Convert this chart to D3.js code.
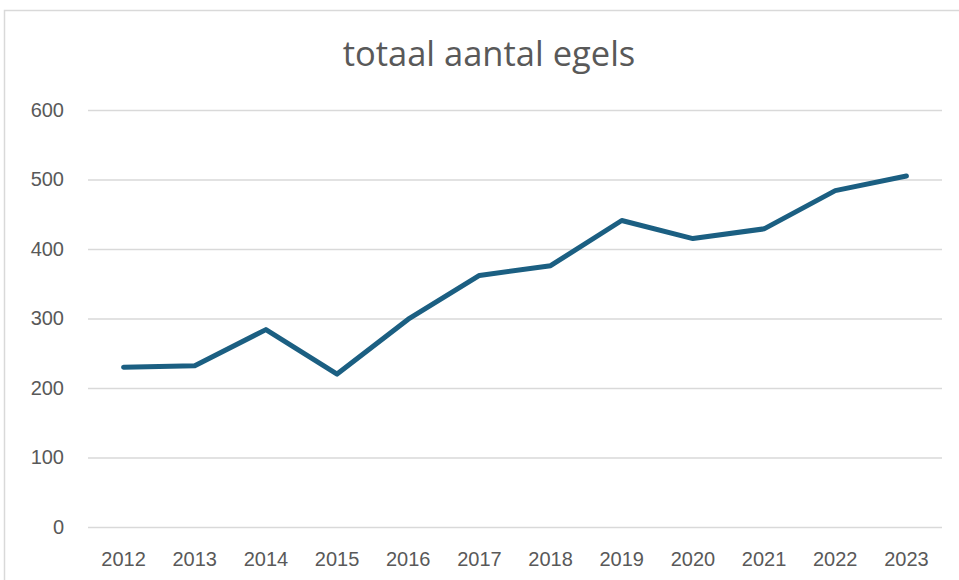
<!DOCTYPE html>
<html>
<head>
<meta charset="utf-8">
<script src="https://cdn.jsdelivr.net/npm/d3@7"></script>
<style>
  body { margin: 0; background: #fff; }
  text { fill: #595959; }
</style>
</head>
<body>
<div id="chart"></div>
<script>
// data
var years = ["2012", "2013", "2014", "2015", "2016", "2017", "2018", "2019", "2020", "2021", "2022", "2023"];
var egels = [230, 232, 284, 220, 299, 362, 376, 441, 415, 429, 484, 505];
var yTicks = [0, 100, 200, 300, 400, 500, 600];

var width = 959, height = 580;
var margin = { left: 88, right: 17, top: 110, bottom: 53 };
var tickFont = '"Liberation Sans", Arial, sans-serif';

var svg = d3.select('#chart')
  .append('svg')
  .attr('width', width)
  .attr('height', height);

// chart area border
svg.append('rect')
  .attr('x', 4.5)
  .attr('y', 10.5)
  .attr('width', width + 10)
  .attr('height', height + 10)
  .attr('fill', 'none')
  .attr('stroke', '#d9d9d9')
  .attr('stroke-width', 1.5);

var x = d3.scaleBand()
  .domain(years)
  .range([margin.left, width - margin.right]);

var y = d3.scaleLinear()
  .domain([0, 600])
  .range([height - margin.bottom, margin.top]);

// gridlines + y labels
var yAxis = svg.append('g')
  .attr('transform', 'translate(' + margin.left + ',0)')
  .call(d3.axisLeft(y)
    .tickValues(yTicks)
    .tickSize(-(width - margin.left - margin.right))
    .tickPadding(24));
yAxis.select('.domain').remove();
yAxis.selectAll('line')
  .attr('stroke', '#d9d9d9')
  .attr('stroke-width', 1.5);
yAxis.selectAll('text')
  .style('font-family', tickFont)
  .style('font-size', '20px')
  .attr('fill', '#595959');

// x labels
var xAxis = svg.append('g')
  .attr('transform', 'translate(0,' + (height - margin.bottom) + ')')
  .call(d3.axisBottom(x).tickSize(0).tickPadding(25));
xAxis.select('.domain').remove();
xAxis.selectAll('text')
  .style('font-family', tickFont)
  .style('font-size', '20px')
  .attr('fill', '#595959');

// the line
var line = d3.line()
  .x(function(d, i) { return x(years[i]) + x.bandwidth() / 2; })
  .y(function(d) { return y(d); });

svg.append('path')
  .datum(egels)
  .attr('d', line)
  .attr('fill', 'none')
  .attr('stroke', '#1b5f82')
  .attr('stroke-width', 5)
  .attr('stroke-linejoin', 'round')
  .attr('stroke-linecap', 'round');

// title
svg.append('text')
  .attr('x', 489)
  .attr('y', 66)
  .attr('text-anchor', 'middle')
  .style('font-family', '"Open Sans", "Noto Sans", sans-serif')
  .style('font-size', '34.5px')
  .text('totaal aantal egels');
</script>
</body>
</html>
